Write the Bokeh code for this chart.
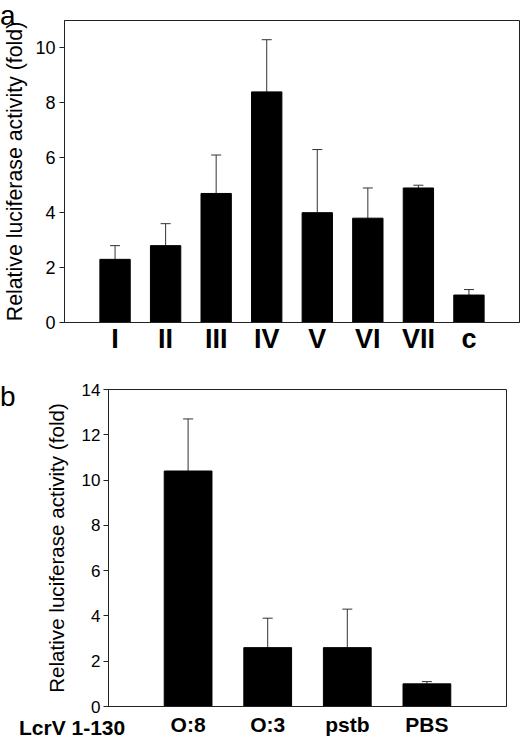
from bokeh.plotting import figure
from bokeh.models import FixedTicker, Whisker, TeeHead, ColumnDataSource, Div
from bokeh.embed import file_html
from bokeh.resources import INLINE

# ---- data: panel a ----
cats_a = ["I", "II", "III", "IV", "V", "VI", "VII", "c"]
vals_a = [2.3, 2.8, 4.7, 8.4, 4.0, 3.8, 4.9, 1.0]
upper_a = [2.8, 3.6, 6.1, 10.3, 6.3, 4.9, 5.0, 1.2]
yticks_a = [0, 2, 4, 6, 8, 10]

# ---- data: panel b ----
cats_b = ["O:8", "O:3", "pstb", "PBS"]
vals_b = [10.4, 2.6, 2.6, 1.0]
upper_b = [12.7, 3.9, 4.3, 1.1]
yticks_b = [0, 2, 4, 6, 8, 10, 12, 14]
row_label_b = "LcrV 1-130"

YLABEL = "Relative luciferase activity (fold)"
FONT = "Liberation Sans"
ERR = "#333333"


def panel(cats, vals, upper, yticks, ymax, W, H, mbl, mbr, mbt, mbb,
          xlab_size, xlab_standoff, ytick_size, ytick_standoff,
          ylab_size, ylab_standoff):
    xs = list(range(1, len(cats) + 1))
    p = figure(width=W, height=H, x_range=(0, len(cats) + 1),
               y_range=(0, ymax), output_backend="svg", toolbar_location=None,
               title=None, min_border_left=mbl, min_border_right=mbr,
               min_border_top=mbt, min_border_bottom=mbb)
    p.xgrid.visible = False
    p.ygrid.visible = False
    p.outline_line_color = "#222222"
    p.outline_line_width = 1
    p.outline_line_alpha = 1
    p.background_fill_color = "white"
    p.border_fill_color = "white"

    src = ColumnDataSource(dict(x=xs, top=vals, up=upper))
    p.vbar(x="x", top="top", bottom=0, width=0.6, source=src,
           fill_color="black", line_color="black")
    w = Whisker(base="x", lower="top", upper="up", source=src,
                line_color=ERR, line_width=1,
                upper_head=TeeHead(size=10, line_color=ERR, line_width=1),
                lower_head=None)
    p.add_layout(w)

    xa = p.xaxis[0]
    xa.ticker = FixedTicker(ticks=xs)
    xa.major_label_overrides = {x: c for x, c in zip(xs, cats)}
    xa.major_tick_line_color = None
    xa.major_tick_out = 0
    xa.major_tick_in = 0
    xa.minor_tick_line_color = None
    xa.axis_line_color = "#222222"
    xa.major_label_text_font = FONT
    xa.major_label_text_font_style = "bold"
    xa.major_label_text_font_size = xlab_size
    xa.major_label_text_color = "black"
    xa.major_label_standoff = xlab_standoff

    ya = p.yaxis[0]
    ya.ticker = FixedTicker(ticks=yticks)
    ya.major_tick_out = 5
    ya.major_tick_in = 0
    ya.minor_tick_line_color = None
    ya.axis_line_color = "#222222"
    ya.major_tick_line_color = "#222222"
    ya.major_label_text_font = FONT
    ya.major_label_text_font_size = ytick_size
    ya.major_label_text_color = "black"
    ya.major_label_standoff = ytick_standoff
    ya.axis_label = YLABEL
    ya.axis_label_text_font = FONT
    ya.axis_label_text_font_style = "normal"
    ya.axis_label_text_font_size = ylab_size
    ya.axis_label_text_color = "black"
    ya.axis_label_standoff = ylab_standoff
    return p


def floating_text(text, left, top, size, weight="normal"):
    html = ('<span style="font-family: \'Liberation Sans\', Arial, sans-serif; '
            f'font-size: {size}px; font-weight: {weight}; line-height: 1; '
            f'color: black; white-space: nowrap;">{text}</span>')
    return Div(text=html, styles={"position": "absolute", "left": f"{left}px",
                                  "top": f"{top}px", "margin": "0px",
                                  "padding": "0px", "line-height": "1",
                                  "overflow": "visible"})


# panel a: frame 455 x 302 inside 520 x 358
pa = panel(cats_a, vals_a, upper_a, yticks_a, 11, 520, 358, 64, 1, 20, 36,
           "27px", 1, "18px", 4, "21.3px", 5)

# panel b: frame 398 x 319 inside 520 x 380 (starts at y = 358)
pb = panel(cats_b, vals_b, upper_b, yticks_b, 14, 520, 380, 108, 14, 31, 30,
           "21px", 6, "17px", 3, "20.6px", 11)

lab_a = floating_text("a", 0, 2, 28)
lab_b = floating_text("b", 0, 383, 28)
lab_row = floating_text(row_label_b, 19, 717, 21, "bold")

open("out.html", "w").write(file_html((pa, pb, lab_a, lab_b, lab_row), INLINE))
